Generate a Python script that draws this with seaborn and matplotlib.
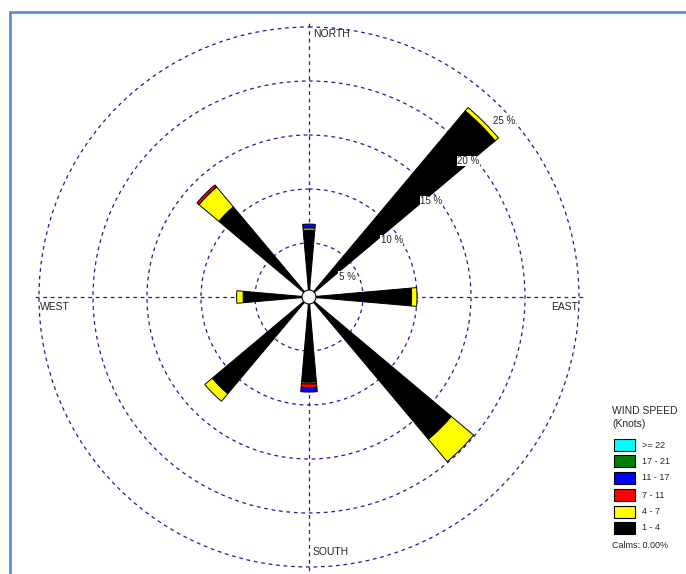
import numpy as np
import matplotlib
matplotlib.use("Agg")
import matplotlib.pyplot as plt
from matplotlib.patches import Rectangle, Circle
import seaborn as sns

# wind directions (compass degrees) and speed classes
directions = ["N", "NE", "E", "SE", "S", "SW", "W", "NW"]
angles_deg = [0, 45, 90, 135, 180, 225, 270, 315]
speed_bins = ["1 - 4", "4 - 7", "7 - 11", "11 - 17", "17 - 21", ">= 22"]
bin_colors = ["#000000", "#ffff00", "#ff0000", "#0000ff", "#008000", "#00ffff"]

# frequency (%) per speed class, in direction order
freq_1_4 = [6.2, 22.5, 9.5, 17.2, 7.9, 11.7, 6.1, 10.9]
freq_4_7 = [0.2, 0.4, 0.5, 2.7, 0.15, 0.9, 0.6, 2.4]
freq_7_11 = [0.0, 0.0, 0.0, 0.0, 0.35, 0.0, 0.0, 0.25]
freq_11_17 = [0.35, 0.0, 0.0, 0.0, 0.4, 0.0, 0.0, 0.0]
freq_17_21 = [0.0, 0.0, 0.0, 0.0, 0.0, 0.0, 0.0, 0.0]
freq_22 = [0.0, 0.0, 0.0, 0.0, 0.0, 0.0, 0.0, 0.0]

ring_values = [5, 10, 15, 20, 25]
ring_labels = ["5 %", "10 %", "15 %", "20 %", "25 %"]
calms_text = "Calms: 0.00%"

W, H = 686, 574


def px(x, y):
    # pixel position -> figure fraction
    return x / W, 1 - y / H


sns.set_style("white")
plt.rcParams['font.family'] = ['Liberation Sans', 'DejaVu Sans']

fig = plt.figure(figsize=(W / 100, H / 100), dpi=100)

# polar axes: centre at (309, 297) px, 25 % ring at 270 px
rmax = 25.5
rad_px = 270 * rmax / 25
ax = fig.add_axes([(309 - rad_px) / W, (H - 297 - rad_px) / H,
                   2 * rad_px / W, 2 * rad_px / H], projection="polar")
ax.set_theta_zero_location("N")
ax.set_theta_direction(-1)
ax.set_ylim(0, rmax)
ax.set_yticks(ring_values)
ax.set_yticklabels([])
ax.set_xticks(np.deg2rad([0, 90, 180, 270]))
ax.set_xticklabels([])
ax.spines["polar"].set_visible(False)
ax.grid(True, color="#1c1c9c", linestyle=(0, (3, 3)), linewidth=0.9)
ax.set_facecolor("none")

theta = np.deg2rad(angles_deg)
width = np.deg2rad(10)
series = [freq_1_4, freq_4_7, freq_7_11, freq_11_17, freq_17_21, freq_22]
bottom = np.zeros(len(directions))
for vals, color in zip(series, bin_colors):
    vals = np.array(vals)
    mask = vals > 0
    ax.bar(theta[mask], vals[mask], width=width, bottom=bottom[mask],
           color=color, edgecolor="black", linewidth=0.7, zorder=3)
    bottom = bottom + vals

# calm circle in the middle
ax.add_patch(Circle((0.5, 0.5), 7 / (2 * rad_px), transform=ax.transAxes,
                    facecolor="white", edgecolor="black", linewidth=0.8, zorder=5))

# ring labels placed along the NE petal
label_pos = [(62, 4.0), (55.5, 9.3), (52, 14.4), (49.5, 19.4), (48, 24.3)]
for (ang, r), lab in zip(label_pos, ring_labels):
    ax.text(np.deg2rad(ang), r, lab, fontsize=7, ha="center", va="center",
            zorder=6, bbox=dict(facecolor="white", edgecolor="none", pad=0.3))

# compass labels
for lab, (x, y) in zip(["NORTH", "SOUTH", "EAST", "WEST"],
                       [(313, 34), (313, 552), (551, 307), (40, 307)]):
    fx, fy = px(x, y)
    fig.text(fx, fy, lab, fontsize=7.5, ha="left", va="center")

# legend
fx, fy = px(612, 411)
fig.text(fx, fy, "WIND SPEED", fontsize=7.5, ha="left", va="center")
fx, fy = px(612, 424)
fig.text(fx, fy, "(Knots)", fontsize=7.5, ha="left", va="center")
legend_y = [445, 461, 478, 495, 512, 528]
for lab, color, y in zip(speed_bins[::-1], bin_colors[::-1], legend_y):
    x0, y0 = px(614, y + 6)
    fig.patches.append(Rectangle((x0, y0), 21 / W, 12 / H, transform=fig.transFigure,
                                 facecolor=color, edgecolor="black", linewidth=0.8))
    tx, ty = px(642, y)
    fig.text(tx, ty, lab, fontsize=6.5, ha="left", va="center")
fx, fy = px(612, 545)
fig.text(fx, fy, calms_text, fontsize=6.5, ha="left", va="center")

# outer frame
x0, y0 = px(10, 700)
fig.patches.append(Rectangle((x0, y0), 1.2, (700 - 12) / H, transform=fig.transFigure,
                             facecolor="none", edgecolor="#5b8fd6", linewidth=2))

fig.savefig("out.png", dpi=100)
